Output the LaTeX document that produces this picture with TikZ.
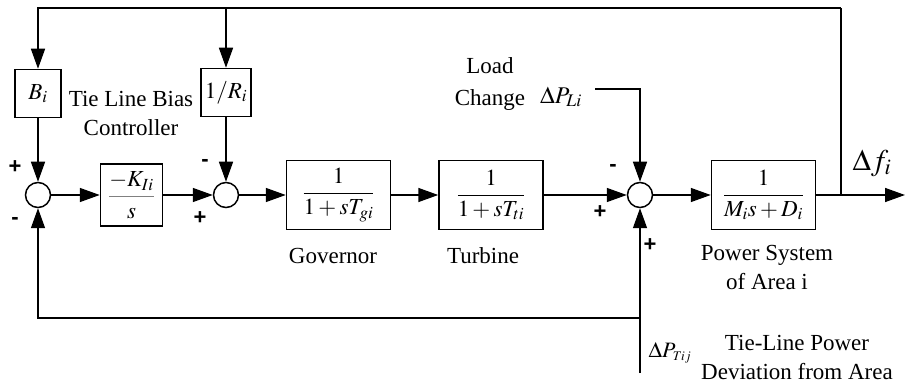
\documentclass[tikz,border=0pt]{standalone}
\usepackage{amsmath}
\usepackage{mathptmx}
\usepackage[no-math]{fontspec}
\setmainfont{Liberation Serif}
\newfontfamily\signfont{Liberation Sans}
\usetikzlibrary{arrows.meta,positioning}

\begin{document}
\begin{tikzpicture}[x=1pt, y=-1pt, line width=1.5pt,
        block/.style={rectangle, draw, fill=white, minimum width=104pt, minimum height=69pt, inner sep=2pt, font=\fontsize{23}{25}\selectfont},
        gain/.style={rectangle, draw, fill=white, minimum width=47pt, minimum height=48pt, inner sep=2pt, font=\fontsize{23}{25}\selectfont},
        sum/.style={circle, draw, minimum size=25pt, inner sep=0pt},
        sgn/.style={font=\signfont\bfseries\fontsize{22}{22}\selectfont, inner sep=0pt},
        txt/.style={font=\fontsize{23}{29}\selectfont, align=center, inner sep=0pt},
        arrow/.style={-{Triangle[length=20pt,width=14pt]}}]

        \useasboundingbox (0,0) rectangle (906,385);

        % forward path
        \node[sum] (sumA) at (38,195) {};
        \node[block, minimum width=62pt, minimum height=62pt, right=48.5pt of sumA] (integ)
            {$\textcolor{gray}{\dfrac{\textcolor{black}{-K_{Ii}}}{\textcolor{black}{s}}}$};
        \node[sum, right=49.5pt of integ] (sumB) {};
        \node[block, right=46.5pt of sumB] (gov) {$\dfrac{1}{1+sT_{gi}}$};
        \node[block, right=47pt of gov] (turb) {$\dfrac{1}{1+sT_{ti}}$};
        \node[sum, right=83pt of turb] (sumC) {};
        \node[block, right=57.5pt of sumC] (psys) {$\dfrac{1}{M_is+D_i}$};

        % feedback gains
        \node[gain, minimum width=46pt, above=63.5pt of sumA] (bias) {$B_i$};
        \node[gain, minimum width=50pt, above=64.5pt of sumB] (droop) {$1/R_i$};

        % labels
        \node[txt] (biastxt) at (131,113) {Tie Line Bias\\Controller};
        \node[txt] (govtxt) at (333,256) {Governor};
        \node[txt] (turbtxt) at (483,256) {Turbine};
        \node[txt] (psystxt) at (767,267) {Power System\\of Area i};
        \node[txt, font=\fontsize{23}{32}\selectfont] (loadtxt) at (490,84) {Load\\Change};
        \node[txt] (tietxt) at (797,357) {Tie-Line Power\\Deviation from Area};
        \node[inner sep=0pt, font=\fontsize{24}{26}\selectfont] (dPL) at (561,97) {$\Delta P_{Li}$};
        \node[inner sep=0pt, font=\fontsize{22}{25}\selectfont] (dPT) at (670,353) {$\Delta P_{\scriptscriptstyle Tij}$};
        \node[inner sep=0pt, font=\fontsize{30}{32}\selectfont] (dfi) at (872,163) {$\Delta f_i$};

        % signs
        \node[sgn] (sA1) at (15,167) {+};
        \node[sgn] (sA2) at (15,221) {-};
        \node[sgn] (sB1) at (205,163) {-};
        \node[sgn] (sB2) at (200,218) {+};
        \node[sgn] (sC1) at (613,168) {-};
        \node[sgn] (sC2) at (600,212) {+};
        \node[sgn] (sC3) at (650,245) {+};

        % helper points
        \coordinate (tap) at (841,195);
        \coordinate (ftop) at (841,8);
        \coordinate (fout) at (905,195);
        \coordinate (ldin) at (595,89);
        \path (sumC) ++(0,178) coordinate (tiein);
        \path (sumC) ++(0,123) coordinate (tiej);

        \draw[arrow] (sumA) -- (integ);
        \draw[arrow] (integ) -- (sumB);
        \draw[arrow] (sumB) -- (gov);
        \draw[arrow] (gov) -- (turb);
        \draw[arrow] (turb) -- (sumC);
        \draw[arrow] (sumC) -- (psys);
        \draw[arrow] (psys) -- (fout);

        \draw (tap) -- (ftop);
        \draw[arrow] (ftop) -| (bias);
        \draw[arrow] (droop |- ftop) -- (droop);
        \draw[arrow] (bias) -- (sumA);
        \draw[arrow] (droop) -- (sumB);

        \draw[arrow] (ldin) -| (sumC);
        \draw[arrow] (tiein) -- (sumC);
        \draw[arrow] (tiej) -| (sumA);
    \end{tikzpicture}
\end{document}
